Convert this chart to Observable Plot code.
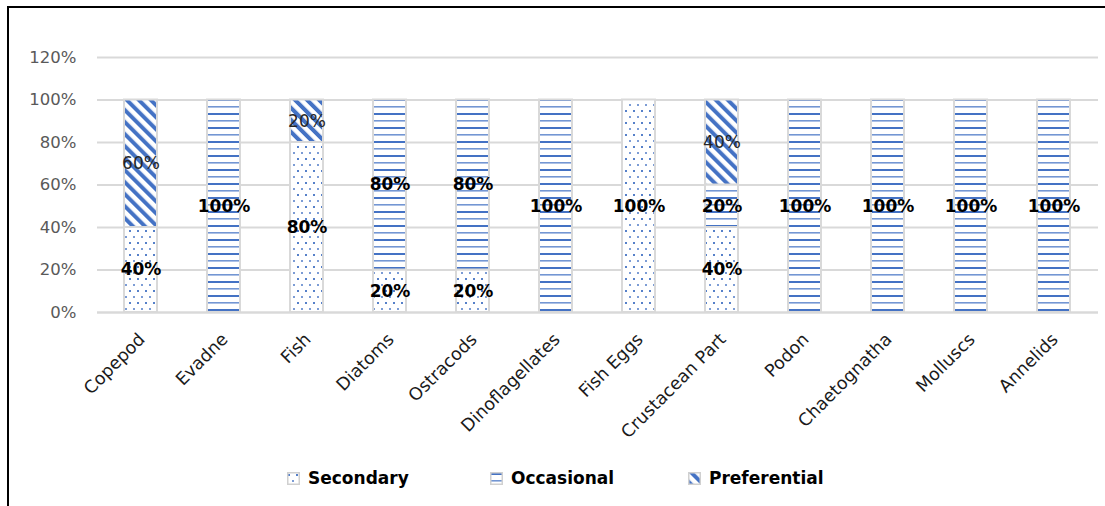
<!DOCTYPE html>
<html><head><meta charset="utf-8">
<script src="https://cdn.jsdelivr.net/npm/d3@7"></script>
<script src="https://cdn.jsdelivr.net/npm/@observablehq/plot@0.6"></script>
<style>
body{margin:0;background:#fff;font-family:"DejaVu Sans",sans-serif;}
#wrap{position:relative;width:1105px;height:506px;overflow:hidden;background:#fff;}
#frame{position:absolute;left:7px;top:6px;width:1200px;height:600px;border-left:2px solid #000;border-top:2px solid #000;pointer-events:none;}
#chart{position:absolute;left:0;top:0;}
#legend{position:absolute;top:466px;left:0;width:1105px;height:24px;}
.item{position:absolute;top:0;height:24px;display:flex;align-items:center;font-weight:bold;font-size:17px;color:#000;}
.item svg{margin-right:8px;}
</style></head>
<body>
<div id="wrap"><div id="chart"></div><div id="legend"></div><div id="frame"></div></div>
<script>
const categories = ["Copepod","Evadne","Fish","Diatoms","Ostracods","Dinoflagellates","Fish Eggs","Crustacean Part","Podon","Chaetognatha","Molluscs","Annelids"];
const seriesNames = ["Secondary","Occasional","Preferential"];
const secondary = [0.4,0,0.8,0.2,0.2,0,1,0.4,0,0,0,0];
const occasional = [0,1,0,0.8,0.8,1,0,0.2,1,1,1,1];
const preferential = [0.6,0,0.2,0,0,0,0,0.4,0,0,0,0];
const yTicks = [0,0.2,0.4,0.6,0.8,1.0,1.2];

const rows = [];
[secondary, occasional, preferential].forEach((vals, si) =>
  vals.forEach((v, i) => rows.push({cat: categories[i], series: seriesNames[si], value: v})));
const nonzero = rows.filter(d => d.value > 0);

const BLUE = "#4472C4";
function patternDefs(prefix) {
  return `
  <pattern id="${prefix}Sec" patternUnits="userSpaceOnUse" width="8" height="12">
    <rect width="8" height="12" fill="#fff"/>
    <rect x="1" y="2" width="2" height="2" fill="${BLUE}" opacity="0.9"/>
    <rect x="5" y="8" width="2" height="2" fill="${BLUE}" opacity="0.7"/>
  </pattern>
  <pattern id="${prefix}Occ" patternUnits="userSpaceOnUse" width="8" height="14">
    <rect width="8" height="14" fill="#fff"/>
    <rect y="1" width="8" height="2" fill="${BLUE}"/>
    <rect y="8" width="8" height="1.6" fill="${BLUE}" opacity="0.75"/>
  </pattern>
  <pattern id="${prefix}Pref" patternUnits="userSpaceOnUse" width="8.5" height="8.5" patternTransform="rotate(-45)">
    <rect width="8.5" height="8.5" fill="#fff"/>
    <rect x="0" y="0" width="4" height="8.5" fill="${BLUE}"/>
  </pattern>`;
}

const defsMark = () => {
  const d = document.createElementNS("http://www.w3.org/2000/svg", "defs");
  d.innerHTML = patternDefs("p");
  return d;
};

const pct = v => Math.round(v * 100) + "%";

const chart = Plot.plot({
  width: 1105,
  height: 445,
  marginTop: 57,
  marginBottom: 133,
  marginLeft: 97,
  marginRight: 7,
  style: {fontFamily: "'DejaVu Sans', sans-serif", fontSize: "16px", background: "transparent", color: "#595959"},
  x: {domain: categories, paddingInner: 0.6, paddingOuter: 0.3, label: null},
  y: {domain: [0, 1.2], label: null},
  color: {domain: seriesNames, range: ["url(#pSec)", "url(#pOcc)", "url(#pPref)"]},
  marks: [
    defsMark,
    Plot.gridY(yTicks, {stroke: "#d9d9d9", strokeOpacity: 1, strokeWidth: 2}),
    Plot.axisY(yTicks, {tickFormat: pct, tickSize: 0, tickPadding: 21, fontSize: 16.5, fill: "#595959", label: null}),
    Plot.axisX({tickRotate: -45, tickSize: 0, tickPadding: 24, dx: 1, fontSize: 17.5, fill: "#1a1a1a", label: null}),
    Plot.barY(nonzero, {x: "cat", y: "value", fill: "series", stroke: "#d9d9d9", strokeWidth: 2, order: seriesNames}),
    Plot.ruleY([0], {stroke: "#d9d9d9", strokeWidth: 2}),
    Plot.text(nonzero, Plot.filter(d => d.series !== "Preferential",
      Plot.stackY({x: "cat", y: "value", z: "series", order: seriesNames, text: d => pct(d.value), fill: "#000", fontWeight: "bold", fontSize: 17}))),
    Plot.text(nonzero, Plot.filter(d => d.series === "Preferential",
      Plot.stackY({x: "cat", y: "value", z: "series", order: seriesNames, text: d => pct(d.value), fill: "#262626", fontSize: 17})))
  ]
});
document.getElementById("chart").appendChild(chart);

// Legend
const legend = document.getElementById("legend");
const legendPos = [287, 490, 688];
seriesNames.forEach((name, i) => {
  const item = document.createElement("div");
  item.className = "item";
  item.style.left = legendPos[i] + "px";
  const key = ["Sec", "Occ", "Pref"][i];
  item.innerHTML = `<svg width="13" height="13"><defs>${patternDefs("l")}</defs><rect x="0.75" y="0.75" width="11.5" height="11.5" fill="url(#l${key})" stroke="#d0d0d0" stroke-width="1.5"/></svg><span>${name}</span>`;
  legend.appendChild(item);
});
</script>
</body></html>
